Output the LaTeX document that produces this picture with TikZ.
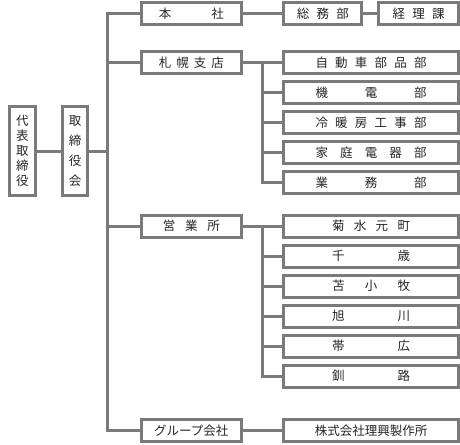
\documentclass[tikz,border=0pt]{standalone}
\usepackage{fontspec}
\setmainfont{Noto Sans CJK JP}
\usepackage{xcolor}
\usetikzlibrary{positioning}
\definecolor{framegray}{RGB}{122,122,122}
\newcommand{\spread}[2]{\makebox[#1pt][s]{#2}}

\begin{document}
\begin{tikzpicture}[x=1pt,y=-1pt,
        box/.style={draw=framegray,line width=3pt,fill=white,inner sep=0pt,minimum height=22pt,text=black!85,font=\fontsize{12.5}{15}\selectfont},
        widebox/.style={box,minimum width=174.4pt},
        line/.style={draw=framegray,line width=3pt}]
        \useasboundingbox (0,0) rectangle (460,444);
        \node[box,minimum width=25.4pt,minimum height=89.4pt,align=center] (daihyo) at (22.5,151) {代\\表\\取\\締\\役};
        \node[box,minimum width=25.4pt,minimum height=89.4pt,align=center,font=\fontsize{12.5}{20}\selectfont] (torishimari) at (75.2,151) {取\\締\\役\\会};
        \node[box,minimum width=99.7pt] (honsha) at (191.3,14) {\spread{65}{本\hfill 社}};
        \node[box,minimum width=99.7pt] (sapporo) at (191.3,62.3) {\spread{65}{札\hfill 幌\hfill 支\hfill 店}};
        \node[box,minimum width=99.7pt] (eigyo) at (191.3,226) {\spread{57}{営\hfill 業\hfill 所}};
        \node[box,minimum width=99.7pt] (group) at (191.3,430.5) {グループ会社};
        \node[box,minimum width=78pt] (somu) at (322.8,14) {\spread{52}{総\hfill 務\hfill 部}};
        \node[box,minimum width=79.7pt] (keiri) at (418.6,14) {\spread{52}{経\hfill 理\hfill 課}};
        \foreach \i/\txt in {0/{自\hfill 動\hfill 車\hfill 部\hfill 品\hfill 部},1/{機\hfill 電\hfill 部},2/{冷\hfill 暖\hfill 房\hfill 工\hfill 事\hfill 部},3/{家\hfill 庭\hfill 電\hfill 器\hfill 部},4/{業\hfill 務\hfill 部}}
            \node[widebox] (sp\i) at (371,62.3+30*\i) {\spread{111}{\txt}};
        \foreach \i/\txt in {0/{菊\hfill 水\hfill 元\hfill 町},1/{千\hfill 歳},2/{苫\hfill 小\hfill 牧},3/{旭\hfill 川},4/{帯\hfill 広},5/{釧\hfill 路}}
            \node[widebox] (ei\i) at (371,226+30*\i) {\spread{78}{\txt}};
        \node[widebox] (rikou) at (371,430.5) {株式会社理興製作所};
        \coordinate (trunk) at (107.5,0);
        \coordinate (branch) at (262.2,0);
        \draw[line] (daihyo.east) -- (torishimari.west);
        \draw[line] (torishimari.east) -- (torishimari.east -| trunk);
        \draw[line] (honsha.west) -- (honsha.west -| trunk) |- (group.west);
        \foreach \n in {sapporo,eigyo}
            \draw[line] (\n.west) -- (\n.west -| trunk);
        \draw[line] (honsha.east) -- (somu.west);
        \draw[line] (somu.east) -- (keiri.west);
        \draw[line] (sapporo.east) -- (sp0.west);
        \draw[line] (sp0.west -| branch) |- (sp4.west);
        \foreach \i in {1,2,3}
            \draw[line] (sp\i.west -| branch) -- (sp\i.west);
        \draw[line] (eigyo.east) -- (ei0.west);
        \draw[line] (ei0.west -| branch) |- (ei5.west);
        \foreach \i in {1,2,3,4}
            \draw[line] (ei\i.west -| branch) -- (ei\i.west);
        \draw[line] (group.east) -- (rikou.west);
\end{tikzpicture}
\end{document}
